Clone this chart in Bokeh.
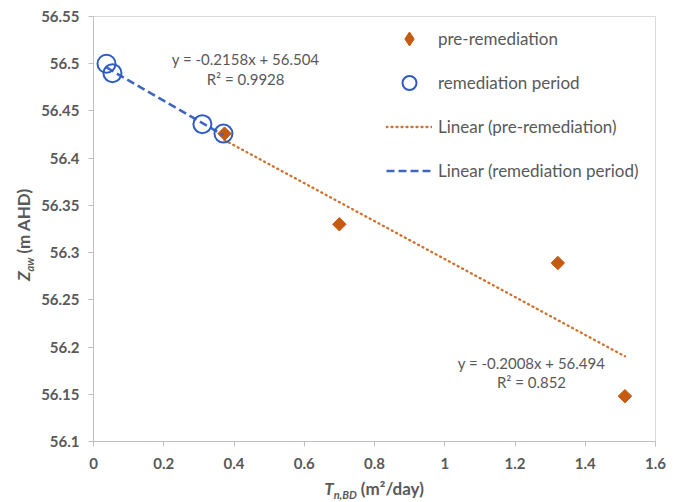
import numpy as np
from bokeh.plotting import figure
from bokeh.models import Range1d, FixedTicker, Label, Legend, LegendItem, Div
from bokeh.layouts import row, column
from bokeh.embed import file_html
from bokeh.resources import INLINE

# ---- data ----
pre_x = [0.373, 0.700, 1.322, 1.513]
pre_y = [56.426, 56.330, 56.289, 56.148]
rem_x = [0.037, 0.054, 0.310, 0.370]
rem_y = [56.500, 56.490, 56.436, 56.426]
pre_slope, pre_intercept = -0.2008, 56.494
rem_slope, rem_intercept = -0.2158, 56.504
pre_eq = ["y = -0.2008x + 56.494", "R\u00b2 = 0.852"]
rem_eq = ["y = -0.2158x + 56.504", "R\u00b2 = 0.9928"]
series_names = ["pre-remediation", "remediation period",
                "Linear (pre-remediation)", "Linear (remediation period)"]
x_ticks = [0, 0.2, 0.4, 0.6, 0.8, 1.0, 1.2, 1.4, 1.6]
x_tick_labels = ["0", "0.2", "0.4", "0.6", "0.8", "1", "1.2", "1.4", "1.6"]
y_ticks = [56.1, 56.15, 56.2, 56.25, 56.3, 56.35, 56.4, 56.45, 56.5, 56.55]
y_tick_labels = ["56.1", "56.15", "56.2", "56.25", "56.3", "56.35", "56.4",
                 "56.45", "56.5", "56.55"]
x_title_html = "<i>T</i><sub style='font-size:11px'><i>n,BD</i></sub> (m\u00b2/day)"
y_title_html = "<i>Z</i><sub style='font-size:11px'><i>aw</i></sub> (m AHD)"

ORANGE = "#C55A11"
ORANGE_LINE = "#D0702A"
BLUE = "#2F5CC4"
BLUE_LINE = "#3F66C0"
GRAY = "#595959"
FONT = "Lato"

LEFT_W = 36
P_W = 672 - LEFT_W
P_H = 475

p = figure(width=P_W, height=P_H,
           x_range=Range1d(0, 1.6), y_range=Range1d(56.1, 56.55),
           output_backend="svg", toolbar_location=None,
           min_border_left=93 - LEFT_W, min_border_right=17,
           min_border_top=16, min_border_bottom=P_H - 441)
p.xgrid.visible = False
p.ygrid.visible = False
p.outline_line_color = "#D9D9D9"
p.outline_line_width = 1
p.background_fill_color = "white"
p.border_fill_color = "white"

p.xaxis.ticker = FixedTicker(ticks=x_ticks)
p.yaxis.ticker = FixedTicker(ticks=y_ticks)
p.xaxis.major_label_overrides = {t: l for t, l in zip(x_ticks, x_tick_labels)}
p.yaxis.major_label_overrides = {t: l for t, l in zip(y_ticks, y_tick_labels)}
for ax in (p.xaxis, p.yaxis):
    ax.axis_line_color = "#BFBFBF"
    ax.major_tick_line_color = "#BFBFBF"
    ax.major_tick_out = 5
    ax.major_tick_in = 0
    ax.minor_tick_line_color = None
    ax.major_label_text_font = FONT
    ax.major_label_text_font_style = "bold"
    ax.major_label_text_font_size = "15px"
    ax.major_label_text_color = GRAY
p.yaxis.major_label_standoff = 9
p.xaxis.major_label_standoff = 11

# trend lines from the fitted equations over each series' range
pre_fx = [min(pre_x), max(pre_x)]
pre_fy = [pre_slope * v + pre_intercept for v in pre_fx]
rem_fx = [min(rem_x), max(rem_x)]
rem_fy = [rem_slope * v + rem_intercept for v in rem_fx]

r_pre_fit = p.line(pre_fx, pre_fy, line_color=ORANGE_LINE, line_width=2.3,
                   line_dash="1 4", line_cap="round")
r_pre = p.scatter(pre_x, pre_y, marker="square", angle=np.pi / 4, size=9.5,
                  fill_color=ORANGE, line_color=ORANGE)
r_rem_fit = p.line(rem_fx, rem_fy, line_color=BLUE_LINE, line_width=2.6,
                   line_dash="8 4")
r_rem = p.scatter(rem_x, rem_y, marker="circle", size=18, fill_color=None,
                  line_color=BLUE, line_width=2)
# legend-only diamond (same colour as the rotated squares)
r_pre_leg = p.scatter([np.nan], [np.nan], marker="diamond", size=14,
                      fill_color=ORANGE, line_color=ORANGE)

legend = Legend(items=[
    LegendItem(label=series_names[0], renderers=[r_pre_leg]),
    LegendItem(label=series_names[1], renderers=[r_rem]),
    LegendItem(label=series_names[2], renderers=[r_pre_fit]),
    LegendItem(label=series_names[3], renderers=[r_rem_fit]),
], location=(293, 253))
legend.border_line_alpha = 0
legend.background_fill_alpha = 0
legend.padding = 0
legend.margin = 0
legend.spacing = 9
legend.glyph_width = 46
legend.glyph_height = 35
legend.label_height = 35
legend.label_standoff = 6
legend.label_text_font = FONT
legend.label_text_font_size = "17px"
legend.label_text_color = GRAY
p.add_layout(legend)

# equation annotations
for txt, yy in zip(rem_eq, [56.5055, 56.484]):
    p.add_layout(Label(x=0.433, y=yy, text=txt, text_align="center",
                       text_baseline="middle", text_font=FONT,
                       text_font_size="15px", text_color=GRAY))
for txt, yy in zip(pre_eq, [56.1836, 56.1625]):
    p.add_layout(Label(x=1.247, y=yy, text=txt, text_align="center",
                       text_baseline="middle", text_font=FONT,
                       text_font_size="15px", text_color=GRAY))

title_css = ("position:absolute;white-space:nowrap;font-family:Lato;"
             "font-weight:bold;font-size:17px;color:#595959;line-height:1;")
y_div = Div(text=(f"<div style='position:relative;width:{LEFT_W}px;height:{P_H}px;'>"
                  f"<div style='{title_css}left:25px;top:235px;"
                  f"transform:translate(-50%,-50%) rotate(-90deg);'>{y_title_html}</div></div>"),
            width=LEFT_W, height=P_H, margin=0)
x_div = Div(text=(f"<div style='position:relative;width:672px;height:27px;'>"
                  f"<div style='{title_css}left:374px;top:15px;"
                  f"transform:translate(-50%,-50%);'>{x_title_html}</div></div>"),
            width=672, height=27, margin=0)

layout = column(row(y_div, p, spacing=0), x_div, spacing=0)
open("out.html", "w").write(file_html(layout, INLINE))
